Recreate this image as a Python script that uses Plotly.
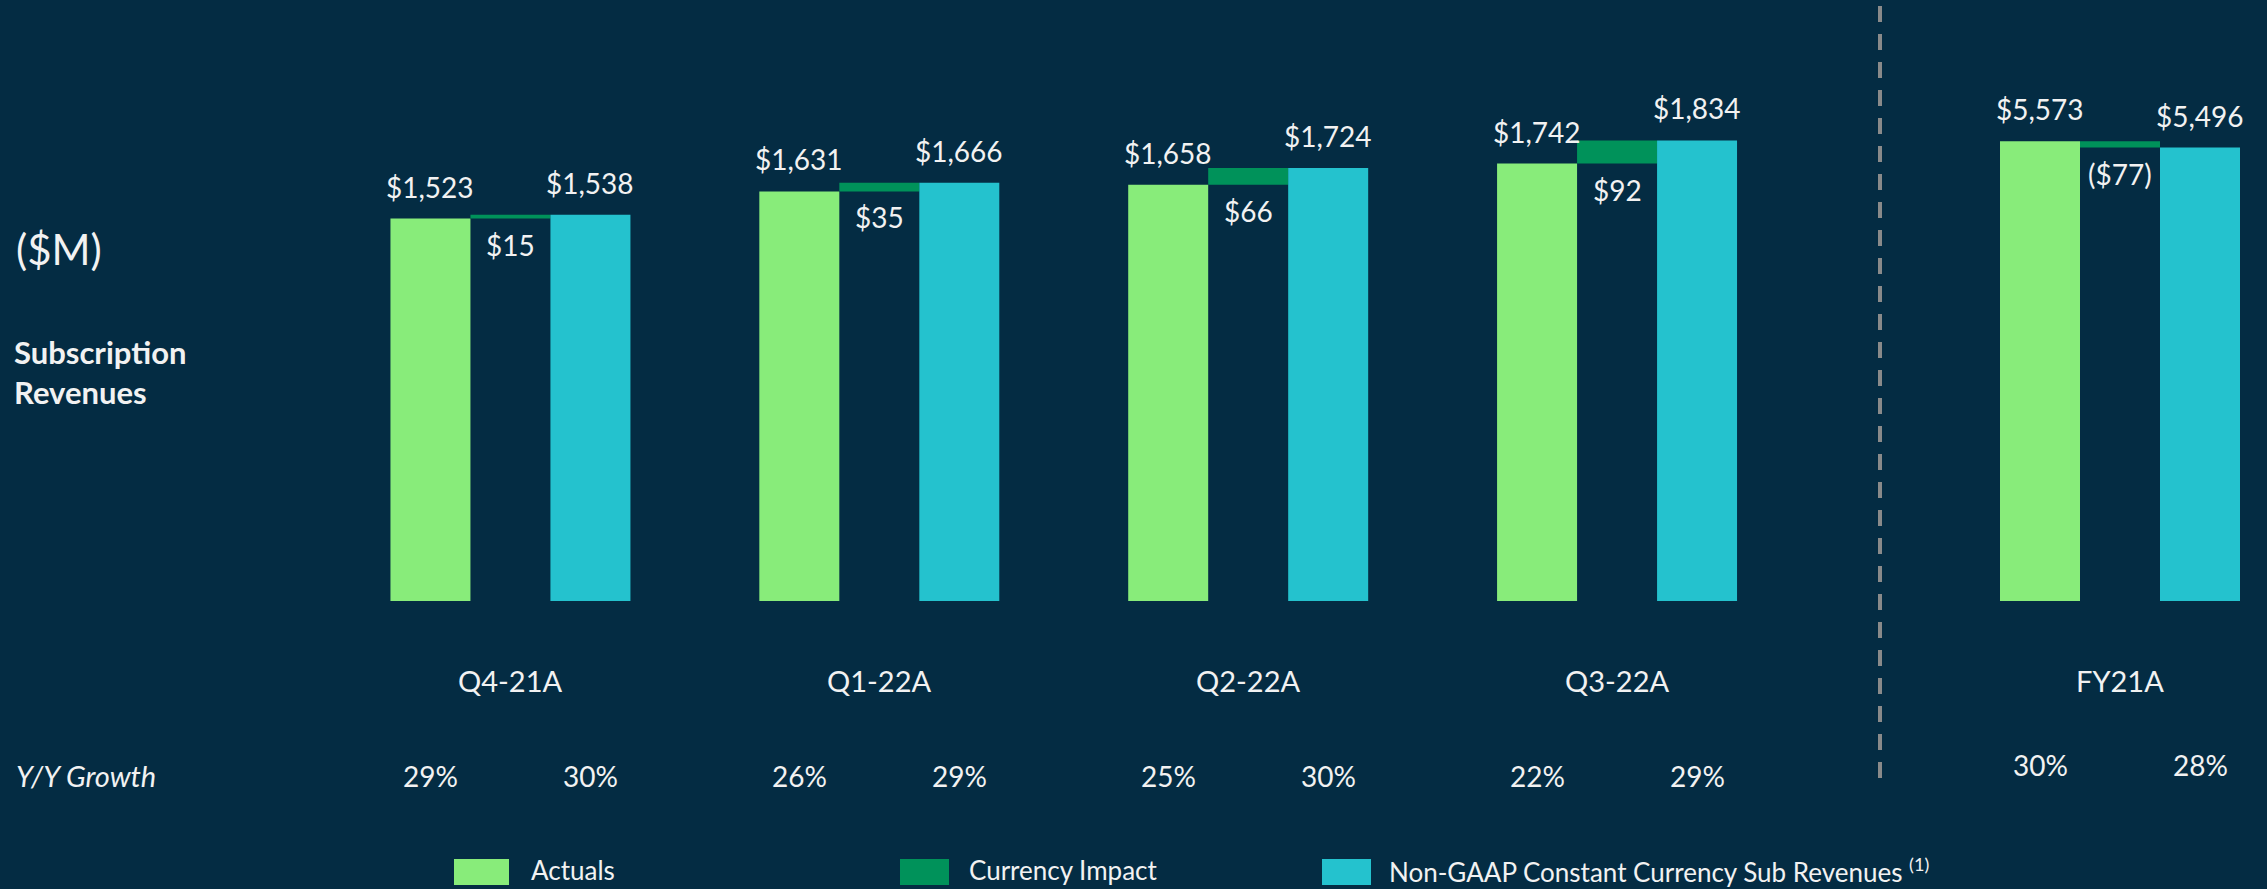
import plotly.graph_objects as go

# ---------------- data ----------------
categories = ["Q4-21A", "Q1-22A", "Q2-22A", "Q3-22A"]
actuals = [1523, 1631, 1658, 1742]
currency_impact = [15, 35, 66, 92]
constant_currency = [1538, 1666, 1724, 1834]
actual_growth = ["29%", "26%", "25%", "22%"]
cc_growth = ["30%", "29%", "30%", "29%"]

fy_categories = ["FY21A"]
fy_actuals = [5573]
fy_currency_impact = [-77]
fy_constant_currency = [5496]
fy_actual_growth = ["30%"]
fy_cc_growth = ["28%"]

series_names = ["Actuals", "Currency Impact", "Non-GAAP Constant Currency Sub Revenues"]

# ---------------- style ----------------
W, H = 2267, 889
BG = "#042c43"
GREEN = "#88ec7a"
DGREEN = "#00925a"
CYAN = "#24c2ce"
TXT = "#f2f2f2"
FONT = "Lato"
colors = [GREEN, DGREEN, CYAN]

PX_PER_CAT = 368.9
BW = 80 / PX_PER_CAT  # bar width in category units


def money(v):
    return f"(${abs(v):,})" if v < 0 else f"${v:,}"


def py(px_from_top):
    return (H - px_from_top) / H


fig = go.Figure()

# quarterly bars
n = len(categories)
xa = [i - BW for i in range(n)]
xc = [i for i in range(n)]
xn = [i + BW for i in range(n)]
fig.add_trace(go.Bar(x=xa, y=actuals, width=BW, marker=dict(color=GREEN, line=dict(width=0)),
                     name=series_names[0], xaxis="x", yaxis="y"))
fig.add_trace(go.Bar(x=xc, y=currency_impact, base=actuals, width=BW,
                     marker=dict(color=DGREEN, line=dict(width=0)),
                     name=series_names[1], xaxis="x", yaxis="y"))
fig.add_trace(go.Bar(x=xn, y=constant_currency, width=BW, marker=dict(color=CYAN, line=dict(width=0)),
                     name=series_names[2], xaxis="x", yaxis="y"))

# full-year bars
m = len(fy_categories)
fxa = [i - BW for i in range(m)]
fxc = [i for i in range(m)]
fxn = [i + BW for i in range(m)]
fig.add_trace(go.Bar(x=fxa, y=fy_actuals, width=BW, marker=dict(color=GREEN, line=dict(width=0)),
                     name=series_names[0], xaxis="x2", yaxis="y2"))
fig.add_trace(go.Bar(x=fxc, y=fy_currency_impact, base=fy_actuals, width=BW,
                     marker=dict(color=DGREEN, line=dict(width=0)),
                     name=series_names[1], xaxis="x2", yaxis="y2"))
fig.add_trace(go.Bar(x=fxn, y=fy_constant_currency, width=BW, marker=dict(color=CYAN, line=dict(width=0)),
                     name=series_names[2], xaxis="x2", yaxis="y2"))

ann = []
lab_font = dict(family=FONT, size=28, color=TXT)


def add_group_labels(xr, yr, xs_a, xs_c, xs_n, act, imp, cc, cats, g_a, g_c, cat_y, gr_y):
    for i in range(len(cats)):
        ann.append(dict(x=xs_a[i], y=act[i], xref=xr, yref=yr, text=money(act[i]),
                        showarrow=False, yanchor="middle", yshift=32, font=lab_font))
        ann.append(dict(x=xs_n[i], y=cc[i], xref=xr, yref=yr, text=money(cc[i]),
                        showarrow=False, yanchor="middle", yshift=32, font=lab_font))
        ann.append(dict(x=xs_c[i], y=min(act[i], cc[i]), xref=xr, yref=yr, text=money(imp[i]),
                        showarrow=False, yanchor="middle", yshift=-26, font=lab_font))
        ann.append(dict(x=xs_c[i], y=py(cat_y), xref=xr, yref="paper", text=cats[i],
                        showarrow=False, yanchor="middle", font=dict(family=FONT, size=29, color=TXT)))
        ann.append(dict(x=xs_a[i], y=py(gr_y), xref=xr, yref="paper", text=g_a[i],
                        showarrow=False, yanchor="middle", font=lab_font))
        ann.append(dict(x=xs_n[i], y=py(gr_y), xref=xr, yref="paper", text=g_c[i],
                        showarrow=False, yanchor="middle", font=lab_font))


add_group_labels("x", "y", xa, xc, xn, actuals, currency_impact, constant_currency,
                 categories, actual_growth, cc_growth, 680, 776)
add_group_labels("x2", "y2", fxa, fxc, fxn, fy_actuals, fy_currency_impact, fy_constant_currency,
                 fy_categories, fy_actual_growth, fy_cc_growth, 680, 765)

# left side labels
ann.append(dict(x=14 / W, y=py(249), xref="paper", yref="paper", text="($M)", showarrow=False,
                xanchor="left", yanchor="middle", font=dict(family=FONT, size=42, color=TXT)))
ann.append(dict(x=12 / W, y=py(372), xref="paper", yref="paper", text="<b>Subscription<br>Revenues</b>",
                showarrow=False, xanchor="left", yanchor="middle", align="left",
                font=dict(family=FONT, size=31, color=TXT)))
ann.append(dict(x=14 / W, y=py(775), xref="paper", yref="paper", text="<i>Y/Y Growth</i>",
                showarrow=False, xanchor="left", yanchor="middle",
                font=dict(family=FONT, size=29, color=TXT)))

# custom legend
shapes = []
leg_sq = [(454, 55), (900, 49), (1322, 49)]
leg_txt_x = [530, 968, 1388]
leg_labels = [series_names[0], series_names[1], series_names[2] + " <sup>(1)</sup>"]
for (x0, w), tx, lab, col in zip(leg_sq, leg_txt_x, leg_labels, colors):
    shapes.append(dict(type="rect", xref="paper", yref="paper", x0=x0 / W, x1=(x0 + w) / W,
                       y0=py(885), y1=py(859), fillcolor=col, line=dict(width=0)))
    ann.append(dict(x=tx / W, y=py(870), xref="paper", yref="paper", text=lab, showarrow=False,
                    xanchor="left", yanchor="middle", borderpad=0,
                    font=dict(family=FONT, size=26, color=TXT)))

# dashed separator
shapes.append(dict(type="line", xref="paper", yref="paper", x0=1880 / W, x1=1880 / W,
                   y0=py(6), y1=py(778), line=dict(color="#8a8a8a", width=4, dash="16px,12px")))

Y_BASE = 601
fig.update_layout(
    width=W, height=H,
    margin=dict(l=0, r=0, t=0, b=0),
    paper_bgcolor=BG, plot_bgcolor=BG,
    barmode="overlay", showlegend=False,
    xaxis=dict(domain=[326 / W, 1801.5 / W], range=[-0.5, n - 0.5], visible=False, fixedrange=True),
    yaxis=dict(domain=[py(Y_BASE), 1], range=[0, Y_BASE / 0.2511], visible=False, fixedrange=True),
    xaxis2=dict(domain=[1927 / W, 1], anchor="y2",
                range=[-(2120 - 1927) / PX_PER_CAT, (W - 2120) / PX_PER_CAT], visible=False),
    yaxis2=dict(domain=[py(Y_BASE), 1], anchor="x2", range=[0, Y_BASE / 0.0825], visible=False),
    annotations=ann, shapes=shapes,
)

fig.write_html(
    "out.html",
    config={"displayModeBar": False},
    post_script="document.body.style.margin='0';document.body.style.padding='0';"
                "document.body.style.overflow='hidden';document.body.style.background='" + BG + "';",
)
